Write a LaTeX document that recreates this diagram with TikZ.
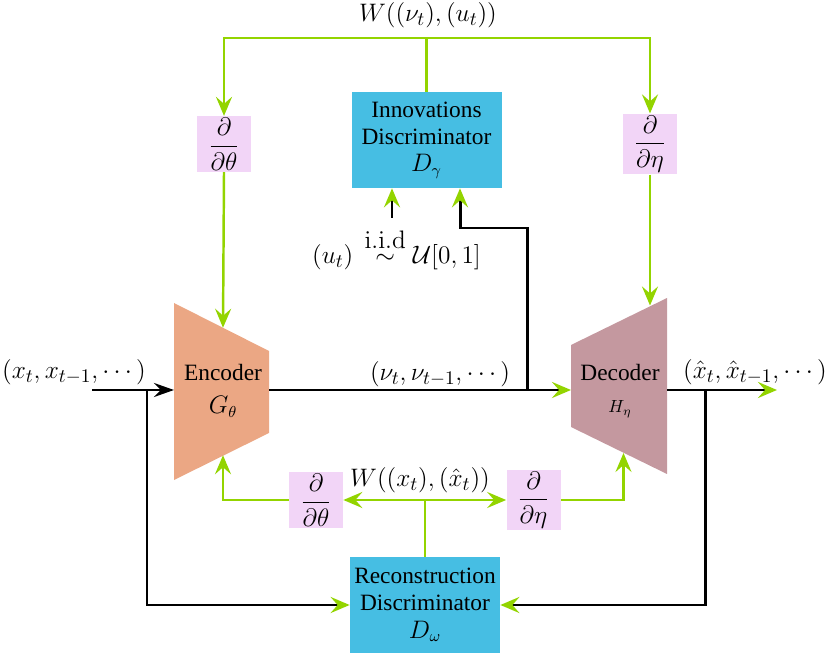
\documentclass[tikz,border=0pt]{standalone}
\usepackage{amsmath,amssymb}
\usepackage[no-math]{fontspec}
\setmainfont{Liberation Serif}
\usetikzlibrary{arrows.meta,positioning,calc}
\definecolor{discblue}{HTML}{46BEE3}
\definecolor{gradpink}{HTML}{F2D5F7}
\definecolor{encorange}{HTML}{EBA784}
\definecolor{decmauve}{HTML}{C4989F}
\definecolor{wgreen}{HTML}{93D400}

\begin{document}
\begin{tikzpicture}[
  disc/.style={rectangle,fill=discblue,minimum width=3.0cm,minimum height=1.92cm,
               align=center,inner sep=2pt,font=\fontsize{13.3}{15.5}\selectfont},
  grad/.style={rectangle,fill=gradpink,minimum width=1.08cm,minimum height=1.06cm,
               inner sep=1pt,font=\fontsize{15}{17}\selectfont},
  blk/.style={align=center,font=\fontsize{13.3}{15.5}\selectfont},
  lbl/.style={font=\fontsize{15.2}{17}\selectfont,inner sep=1pt},
  gline/.style={wgreen,line width=1.4pt},
  garr/.style={gline,-{Stealth[length=3.8mm,width=3.2mm,inset=1.4mm]}},
  barr/.style={black,line width=1.7pt,-{Stealth[length=4mm,width=2.8mm,inset=1.4mm]}},
  bgarr/.style={black,line width=1.7pt,-{Stealth[length=3.8mm,width=3.2mm,inset=1.4mm,color=wgreen]}}
]
\useasboundingbox (0,0) rectangle (16.6,-13.06);

% ---- DISCRIMINATORS ----
\node[disc] (innov) at (8.53,-2.8)  {Innovations\\Discriminator\\$D_\gamma$};
\node[disc] (recon) at (8.5,-12.1)  {Reconstruction\\Discriminator\\$D_\omega$};

% ---- GRADIENT BOXES ----
\node[grad] (gthtop)  at (4.48,-2.88)  {$\dfrac{\partial}{\partial\theta}$};
\node[grad] (getatop) at (13.0,-2.88)  {$\dfrac{\partial}{\partial\eta}$};
\node[grad] (gthbot)  at (6.32,-10.0)  {$\dfrac{\partial}{\partial\theta}$};
\node[grad] (getabot) at (10.67,-10.0) {$\dfrac{\partial}{\partial\eta}$};

% ---- ENCODER / DECODER ----
\fill[encorange] (3.48,-6.06) -- (5.38,-7.02) -- (5.38,-8.66) -- (3.48,-9.6) -- cycle;
\node[blk] (enc) at (4.46,-7.82) {Encoder\\[3pt]$G_\theta$};
\fill[decmauve] (11.42,-6.9) -- (13.34,-5.96) -- (13.34,-9.48) -- (11.42,-8.54) -- cycle;
\node[blk] (dec) at (12.4,-7.82) {Decoder\\[3pt]{\normalsize$H_\eta$}};

\coordinate (encl)   at (3.48,-7.8);
\coordinate (encr)   at (5.38,-7.8);
\coordinate (enctop) at (4.46,-6.555);
\coordinate (encbot) at (4.46,-9.105);
\coordinate (decl)   at (11.42,-7.8);
\coordinate (decr)   at (13.34,-7.8);
\coordinate (dectop) at (13.0,-6.11);
\coordinate (decbot) at (12.47,-9.06);

% ---- LABELS ----
\node[lbl] (wtop) at (8.56,-0.3)  {$W((\nu_t),(u_t))$};
\node[lbl] (wbot) at (8.4,-9.6)   {$W((x_t),(\hat{x}_t))$};
\node[lbl] (xin)  at (1.48,-7.44) {$(x_t,x_{t-1},\cdots)$};
\node[lbl] (nu)   at (8.8,-7.48)  {$(\nu_t,\nu_{t-1},\cdots)$};
\node[lbl] (xout) at (15.1,-7.44) {$(\hat{x}_t,\hat{x}_{t-1},\cdots)$};
\node[lbl,anchor=base west] (samp) at (6.2,-5.27)
  {$(u_t)\,\overset{\textstyle\mathrm{i.i.d}}{\sim}\mathcal{U}[0,1]$};

% ---- GREEN (GRADIENT) PATHS ----
\coordinate (wt) at (innov.north |- 0,-0.76);
\draw[gline] (innov.north) -- (wt);
\draw[garr] (wt) -| (gthtop.north);
\draw[garr] (wt) -| (getatop.north);
\draw[garr] (gthtop.south) -- (enctop);
\draw[garr] (getatop.south) -- (dectop);

\coordinate (wb) at (recon.north |- gthbot.east);
\draw[gline] (recon.north) -- (wb);
\draw[garr] (wb) -- (gthbot.east);
\draw[garr] (wb) -- (getabot.west);
\draw[garr] (gthbot.west) -| (encbot);
\draw[garr] (getabot.east) -| (decbot);

% ---- DATA PATHS ----
\coordinate (xstart) at (1.84,-7.8);
\coordinate (xbr)    at (2.94,-7.8);
\coordinate (nubr)   at (10.54,-7.8);
\coordinate (nuup)   at (9.2,-4.56);
\coordinate (uin)    at (7.84,-4.36);
\coordinate (xend)   at (15.54,-7.8);
\coordinate (xhbr)   at (14.1,-7.8);

\draw[barr] (xstart) -- (encl);
\draw[bgarr] (xbr) |- (recon.west);
\draw[bgarr] (encr) -- (decl);
\draw[bgarr] (nubr) |- (nuup) -- (innov.south -| nuup);
\draw[bgarr] (uin) -- (innov.south -| uin);
\draw[bgarr] (decr) -- (xend);
\draw[bgarr] (xhbr) |- (recon.east);

\end{tikzpicture}
\end{document}
